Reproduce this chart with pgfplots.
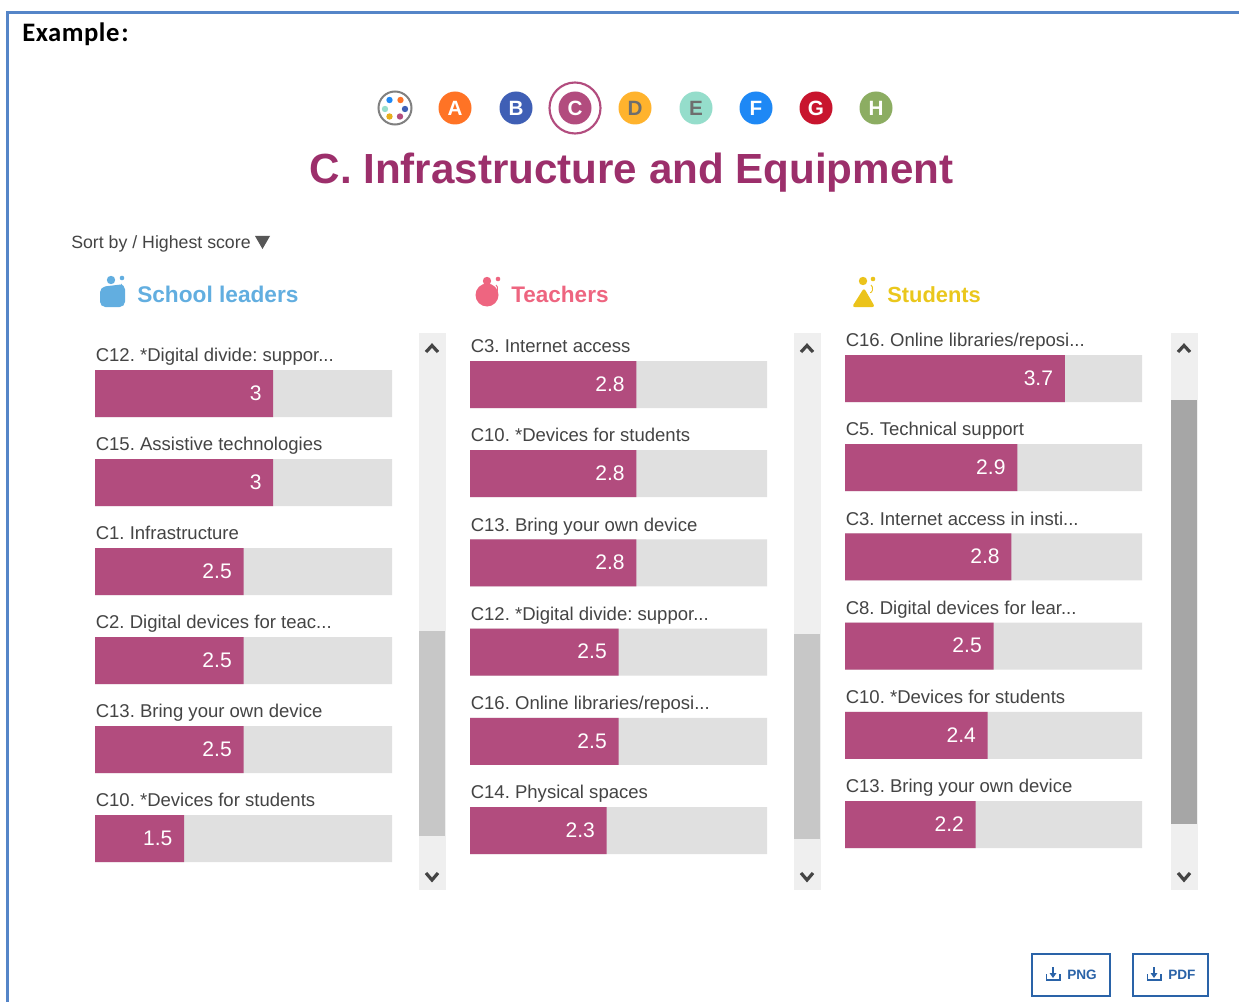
\documentclass[border=0pt]{standalone}
\usepackage{fontspec}
\usepackage{pgfplots}
\pgfplotsset{compat=1.18}
\setmainfont{Liberation Sans}
\newfontfamily\calib{Carlito}
\definecolor{barc}{HTML}{B24C7E}
\definecolor{restc}{HTML}{E0E0E0}
\definecolor{titlec}{HTML}{9C2F6B}
\definecolor{trackc}{HTML}{EFEFEF}
\definecolor{txt}{HTML}{444444}
\definecolor{frame}{HTML}{5585C8}
\definecolor{btn}{HTML}{2A63A8}
\definecolor{leaders}{HTML}{62AEE0}
\definecolor{teach}{HTML}{EE6580}
\definecolor{stud}{HTML}{EAC71C}
\newcommand{\fs}[1]{\fontsize{#1}{#1}\selectfont}
\frenchspacing
\pgfplotsset{
  col/.style={
    scale only axis, width=222.75pt, height=401.4pt,
    xmin=0, xmax=5, ymin=-0.5, ymax=5.5, y dir=reverse,
    axis lines=none, clip=false, anchor=north west,
    xbar, bar shift=0pt, bar width=35.25pt,
    /pgf/number format/assume math mode=true,
  },
  rest/.style={draw=none, fill=restc, forget plot},
  val/.style={draw=none, fill=barc, point meta=x,
    nodes near coords,
    nodes near coords style={anchor=east, inner sep=0pt, xshift=-8.6pt, yshift=0.3pt, text=white, font=\fs{15.8}},
  },
  lab/.style={draw=none, fill=none, forget plot, point meta=explicit symbolic,
    nodes near coords,
    nodes near coords style={anchor=base west, inner sep=0pt, xshift=0.4pt, yshift=23.85pt, text=txt, font=\fs{13.9}},
  },
}
\newcommand{\scroll}[4]{%
  \fill[trackc] (#1,333) rectangle (#1+27,890);
  \fill[#3] (#1,#2) rectangle (#1+26,#4);
  \draw[txt, line width=2.4pt, line join=miter] (#1+7,352) -- (#1+13,345.5) -- (#1+19,352);
  \draw[txt, line width=2.4pt, line join=miter] (#1+7,873) -- (#1+13,880) -- (#1+19,873);
}
\begin{document}
\begin{tikzpicture}[x=0.75pt, y=-0.75pt]
\useasboundingbox (0,0) rectangle (1239,1002);
\fill[white] (0,0) rectangle (1239,1002);
\fill[frame] (6,11) rectangle (1239,14);
\fill[frame] (6,11) rectangle (9,1002);
\node[anchor=base west, inner sep=0pt, font=\calib\bfseries\fs{20}\addfontfeature{LetterSpace=2}] at (22,41.5) {Example\kern1.5pt:};

% selector
\draw[gray, line width=1.5pt] (395,108) circle (16.5);
\foreach \xx/\yy/\cc in {-5.5/-8/1E88F5, 5.5/-8/FF7325, 10/1/3F5FB5, 5/8.5/B24C7E, -5.5/8.5/E8AE1C, -10/1/95DDCB}
  {\definecolor{dot}{HTML}{\cc}\fill[dot] (395+\xx,108+\yy) circle (3.2);}
\foreach \xx/\cc/\tc/\ll in {455/FF7325/FFFFFF/A, 516/3F5FB5/FFFFFF/B, 575/B24C7E/FFFFFF/C, 635/FFB32D/6E6E6E/D, 696/95DDCB/6E6E6E/E, 756/1E88F5/FFFFFF/F, 816/C8152E/FFFFFF/G, 876/8CAD62/FFFFFF/H}
  {\definecolor{dot}{HTML}{\cc}\definecolor{dt}{HTML}{\tc}
   \fill[dot] (\xx,108) circle (16.5);
   \node[text=dt, font=\bfseries\fs{15.5}, inner sep=0pt] at (\xx,108) {\ll};}
\draw[barc, line width=1.6pt] (575,108) circle (25.5);

\node[anchor=base, inner sep=0pt, text=titlec, font=\bfseries\fs{31.6}] at (631.5,184) {C. Infrastructure and Equipment};

\node[anchor=base west, inner sep=0pt, text=txt, font=\fs{13.3}] at (71,248) {Sort by / Highest score};
\fill[txt!90] (255,236) -- (270,236) -- (262.5,249) -- cycle;

% headers
\fill[leaders, rounded corners=4pt] (100,287) -- (125,284) -- (125,307) -- (100,307) -- cycle;
\fill[leaders] (111,280) circle (4.2);
\fill[leaders] (122,278) circle (2.3);
\draw[leaders, line width=.7pt] (121,284) arc (-70:90:2.5 and 4);
\node[anchor=base west, inner sep=0pt, text=leaders, font=\bfseries\fs{17}] at (137,302) {School leaders};

\fill[teach] (487,295) circle (11.5);
\fill[teach] (487,281) circle (4.2);
\fill[teach] (498,279) circle (2.3);
\draw[teach, line width=.7pt] (496,285) arc (-70:90:2.5 and 4);
\node[anchor=base west, inner sep=0pt, text=teach, font=\bfseries\fs{16.9}] at (511,302) {Teachers};

\fill[stud!95!orange, rounded corners=2pt] (852,307) -- (864,288) -- (875,307) -- cycle;
\fill[stud!95!orange] (863,281) circle (4.2);
\fill[stud!95!orange] (873,279) circle (2.3);
\draw[stud!95!orange, line width=.7pt] (871,285) arc (-70:90:2.5 and 4);
\node[anchor=base west, inner sep=0pt, text=stud, font=\bfseries\fs{16.4}] at (887,302) {Students};

% scrollbars
\scroll{419}{631}{black!22}{836}
\scroll{794}{634}{black!22}{839}
\scroll{1171}{400}{black!35}{824}

% column 1
\begin{axis}[col, height=400.5pt, at={(95*0.75pt,-349*0.75pt)}]
\addplot[rest] coordinates {(5,0) (5,1) (5,2) (5,3) (5,4) (5,5)};
\addplot[val] coordinates {(3,0) (3,1) (2.5,2) (2.5,3) (2.5,4) (1.5,5)};
\addplot[lab] coordinates {
 (0,0) [C12. *Digital divide: suppor...]
 (0,1) [C15. Assistive technologies]
 (0,2) [C1. Infrastructure]
 (0,3) [C2. Digital devices for teac...]
 (0,4) [C13. Bring your own device]
 (0,5) [C10. *Devices for students]};
\end{axis}
% column 2
\begin{axis}[col, at={(470*0.75pt,-339.9*0.75pt)}]
\addplot[rest] coordinates {(5,0) (5,1) (5,2) (5,3) (5,4) (5,5)};
\addplot[val] coordinates {(2.8,0) (2.8,1) (2.8,2) (2.5,3) (2.5,4) (2.3,5)};
\addplot[lab] coordinates {
 (0,0) [C3. Internet access]
 (0,1) [C10. *Devices for students]
 (0,2) [C13. Bring your own device]
 (0,3) [C12. *Digital divide: suppor...]
 (0,4) [C16. Online libraries/reposi...]
 (0,5) [C14. Physical spaces]};
\end{axis}
% column 3
\begin{axis}[col, at={(845*0.75pt,-333.9*0.75pt)}]
\addplot[rest] coordinates {(5,0) (5,1) (5,2) (5,3) (5,4) (5,5)};
\addplot[val] coordinates {(3.7,0) (2.9,1) (2.8,2) (2.5,3) (2.4,4) (2.2,5)};
\addplot[lab] coordinates {
 (0,0) [C16. Online libraries/reposi...]
 (0,1) [C5. Technical support]
 (0,2) [C3. Internet access in insti...]
 (0,3) [C8. Digital devices for lear...]
 (0,4) [C10. *Devices for students]
 (0,5) [C13. Bring your own device]};
\end{axis}

% buttons
\foreach \xa/\xb/\tt in {1032/1110/PNG, 1133/1208/PDF}{
  \draw[btn, line width=1.5pt] (\xa,954) rectangle (\xb,996);
  \draw[btn, line width=1pt] (\xa+14.5,974) -- (\xa+14.5,980) -- (\xa+28,980) -- (\xa+28,974);
  \draw[btn, line width=1pt] (\xa+21,967) -- (\xa+21,974);
  \fill[btn] (\xa+17.5,973) -- (\xa+24.5,973) -- (\xa+21,978) -- cycle;
  \node[anchor=base west, inner sep=0pt, text=btn, font=\bfseries\fs{10.2}] at (\xa+35,979) {\tt};
}
\end{tikzpicture}
\end{document}
